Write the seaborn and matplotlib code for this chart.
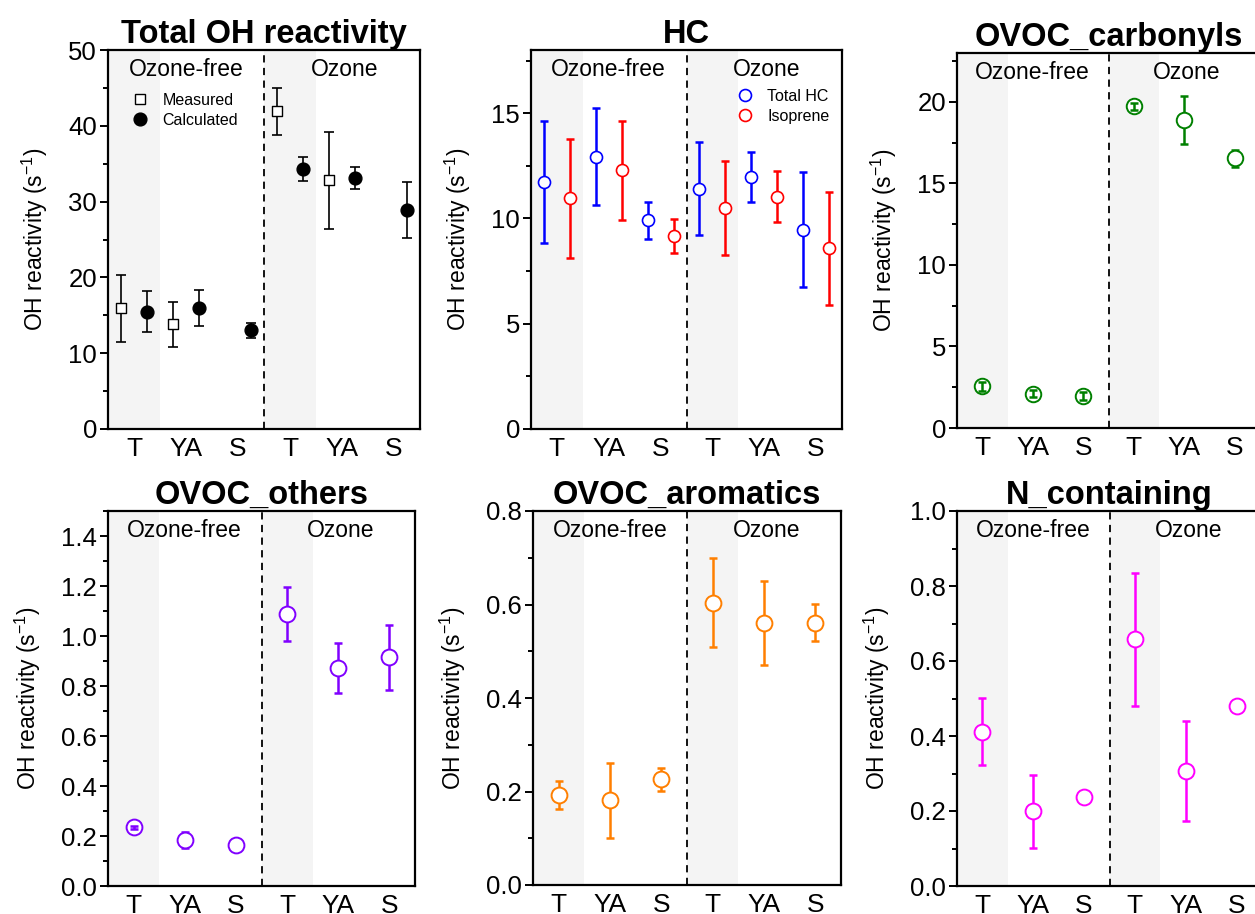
import numpy as np
import pandas as pd
import matplotlib
matplotlib.use("Agg")
import matplotlib.pyplot as plt
from matplotlib.lines import Line2D
from matplotlib.ticker import MultipleLocator
import matplotlib.transforms as mtransforms
import seaborn as sns

# categories (3 per condition)
groups = ["T", "YA", "S", "T", "YA", "S"]
positions = [1, 2, 3, 4, 5, 6]

# Total OH reactivity
measured = [15.9, 13.8, np.nan, 41.9, 32.8, np.nan]
measured_err = [4.4, 3.0, np.nan, 3.1, 6.4, np.nan]
calculated = [15.5, 16.0, 13.0, 34.3, 33.1, 28.9]
calculated_err = [2.75, 2.4, 1.0, 1.55, 1.45, 3.75]

# HC
total_hc = [11.72, 12.94, 9.92, 11.42, 11.96, 9.46]
total_hc_err = [2.9, 2.3, 0.88, 2.22, 1.18, 2.73]
isoprene = [10.96, 12.28, 9.16, 10.5, 11.04, 8.58]
isoprene_err = [2.82, 2.37, 0.8, 2.25, 1.2, 2.69]

# OVOC classes
carbonyls = [2.55, 2.11, 1.95, 19.73, 18.9, 16.53]
carbonyls_err = [0.25, 0.2, 0.25, 0.2, 1.48, 0.55]
others = [0.235, 0.185, 0.165, 1.089, 0.873, 0.915]
others_err = [0.006, 0.033, 0.02, 0.109, 0.099, 0.129]
aromatics = [0.192, 0.181, 0.226, 0.604, 0.561, 0.561]
aromatics_err = [0.03, 0.08, 0.024, 0.095, 0.09, 0.04]
n_containing = [0.412, 0.199, 0.237, 0.658, 0.307, 0.481]
n_containing_err = [0.089, 0.098, 0.0, 0.178, 0.134, 0.0]

W, H = 1255, 914
YLABEL = "OH reactivity (s$^{-1}$)"

sns.set_theme(style="ticks")
plt.rcParams["font.family"] = ["Liberation Sans", "DejaVu Sans"]
plt.rcParams["mathtext.fontset"] = "custom"
plt.rcParams["mathtext.rm"] = "Liberation Sans"
plt.rcParams["mathtext.it"] = "Liberation Sans"
for k in ["text.color", "axes.labelcolor", "xtick.color", "ytick.color", "axes.edgecolor"]:
    plt.rcParams[k] = "black"

fig = plt.figure(figsize=(W / 100, H / 100), dpi=100)


def make_axes(l, t, r, b):
    return fig.add_axes([l / W, 1 - b / H, (r - l) / W, (b - t) / H])


def style_axes(ax, title, ylim, major, minor):
    ax.set_xlim(0.5, 6.5)
    ax.set_ylim(*ylim)
    ax.axvspan(0.5, 1.5, color="#f4f4f4", zorder=0, lw=0)
    ax.axvspan(3.5, 4.5, color="#f4f4f4", zorder=0, lw=0)
    ax.axvline(3.5, color="black", ls=(0, (4, 3)), lw=1.3, zorder=1)
    ax.yaxis.set_major_locator(MultipleLocator(major))
    ax.yaxis.set_minor_locator(MultipleLocator(minor))
    ax.set_xticks(positions)
    ax.set_xticklabels(groups)
    ax.tick_params(axis="x", length=0, pad=6, labelsize=19)
    ax.tick_params(axis="y", which="major", length=6, width=1.4, direction="out",
                   pad=2, labelsize=18.5)
    ax.tick_params(axis="y", which="minor", length=3.5, width=1.4, direction="out")
    for s in ax.spines.values():
        s.set_linewidth(1.6)
        s.set_color("black")
    ax.set_title(title, fontsize=23.5, fontweight="bold", pad=5)
    trans = mtransforms.blended_transform_factory(ax.transData, ax.transAxes)
    ax.text(2.0, 0.948, "Ozone-free", transform=trans, ha="center", va="center", fontsize=16.5)
    ax.text(5.05, 0.948, "Ozone", transform=trans, ha="center", va="center", fontsize=16.5)


def draw_series(ax, x, y, err, color, marker, size, face, lw, elw, cap):
    df = pd.DataFrame({"x": x, "y": y, "err": err}).dropna(subset=["y"])
    bbox = ax.get_position()
    px_per_unit = bbox.height * H / (ax.get_ylim()[1] - ax.get_ylim()[0])
    radius = np.sqrt(size) / 72 * 100 / 2 / px_per_unit
    for _, row in df.iterrows():
        if row["err"] > 0:
            # small error bars sit on top of the open marker, large ones behind it
            z = 4 if row["err"] < 0.6 * radius else 2
            ax.errorbar(row["x"], row["y"], yerr=row["err"], fmt="none", ecolor=color,
                        elinewidth=elw, capsize=cap, capthick=elw, zorder=z)
    sns.scatterplot(data=df, x="x", y="y", ax=ax, marker=marker, s=size, facecolor=face,
                    edgecolor=color, linewidth=lw, zorder=3, legend=False)
    ax.set_xlabel("")
    ax.set_ylabel(YLABEL, fontsize=16.5, labelpad=13)


x = np.array(positions, dtype=float)

# panel 1
ax1 = make_axes(108, 50, 420, 429)
style_axes(ax1, "Total OH reactivity", (0, 50), 10, 5)
draw_series(ax1, x - 0.25, measured, measured_err, "black", "s", 55, "white", 1.0, 1.2, 3.4)
draw_series(ax1, x + 0.25, calculated, calculated_err, "black", "o", 85, "black", 1.0, 1.2, 3.4)
h1 = [Line2D([], [], ls="none", marker="s", ms=7.4, mfc="white", mec="black", mew=1.0),
      Line2D([], [], ls="none", marker="o", ms=9.2, mfc="black", mec="black")]
ax1.legend(h1, ["Measured", "Calculated"], loc="upper left", bbox_to_anchor=(0.077, 0.887),
           frameon=False, fontsize=11.5, handlelength=1, handletextpad=0.9,
           borderpad=0, borderaxespad=0, labelspacing=0.3)

# panel 2
ax2 = make_axes(531, 50, 842, 429)
style_axes(ax2, "HC", (0, 18), 5, 2.5)
draw_series(ax2, x - 0.25, total_hc, total_hc_err, "#0000ff", "o", 75, "white", 1.2, 1.8, 3.2)
draw_series(ax2, x + 0.25, isoprene, isoprene_err, "#ff0000", "o", 75, "white", 1.2, 1.8, 3.2)
h2 = [Line2D([], [], ls="none", marker="o", ms=8.6, mfc="white", mec="#0000ff", mew=1.2),
      Line2D([], [], ls="none", marker="o", ms=8.6, mfc="white", mec="#ff0000", mew=1.2)]
ax2.legend(h2, ["Total HC", "Isoprene"], loc="upper left", bbox_to_anchor=(0.662, 0.897),
           frameon=False, fontsize=11.5, handlelength=1, handletextpad=0.9,
           borderpad=0, borderaxespad=0, labelspacing=0.3)

# panel 3
ax3 = make_axes(957, 53, 1260, 428)
style_axes(ax3, "OVOC_carbonyls", (0, 23), 5, 2.5)
draw_series(ax3, x, carbonyls, carbonyls_err, "#008000", "o", 125, "white", 1.4, 1.8, 3.2)

# panel 4
ax4 = make_axes(108, 511, 415, 886)
style_axes(ax4, "OVOC_others", (0, 1.5), 0.2, 0.1)
draw_series(ax4, x, others, others_err, "#8000ff", "o", 130, "white", 1.4, 1.8, 3.2)

# panel 5
ax5 = make_axes(533, 511, 841, 885)
style_axes(ax5, "OVOC_aromatics", (0, 0.8), 0.2, 0.1)
draw_series(ax5, x, aromatics, aromatics_err, "#ff7f00", "o", 130, "white", 1.4, 1.8, 3.2)

# panel 6
ax6 = make_axes(957, 511, 1262, 886)
style_axes(ax6, "N_containing", (0, 1.0), 0.2, 0.1)
draw_series(ax6, x, n_containing, n_containing_err, "#ff00ff", "o", 130, "white", 1.4, 1.8, 3.2)

fig.savefig("out.png", dpi=100)
